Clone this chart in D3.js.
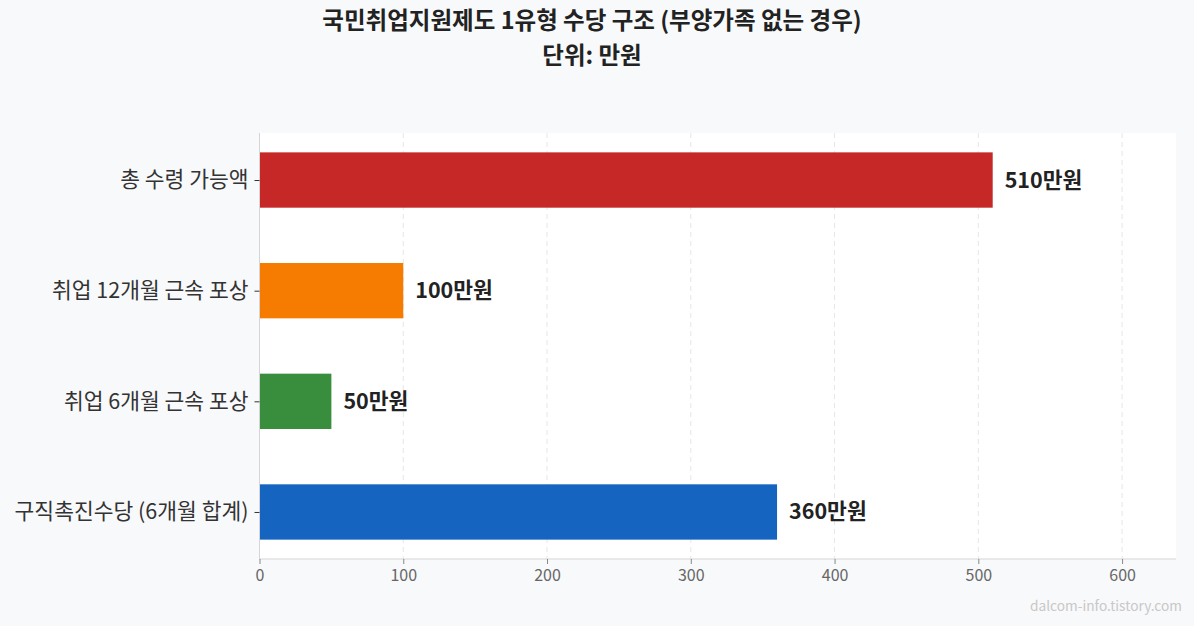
<!DOCTYPE html>
<html><head><meta charset="utf-8">
<script src="https://cdn.jsdelivr.net/npm/d3@7"></script>
<style>
body{margin:0;background:#f8f9fb;}
svg{display:block;font-family:"Noto Sans CJK KR","Noto Sans",sans-serif;}
</style></head>
<body><svg id="c" width="1194" height="626"></svg>
<script>
const categories = ["총 수령 가능액","취업 12개월 근속 포상","취업 6개월 근속 포상","구직촉진수당 (6개월 합계)"];
const values = [510, 100, 50, 360];
const colors = ["#c62828","#f57c00","#388e3c","#1565c0"];
const xTicks = [0,100,200,300,400,500,600];
const titleLines = ["국민취업지원제도 1유형 수당 구조 (부양가족 없는 경우)","단위: 만원"];
const unit = "만원";

const svg = d3.select("#c");
const W = 1194, H = 626;
const m = {left:259.5, right:1176, top:133, bottom:559};
svg.append("rect").attr("width",W).attr("height",H).attr("fill","#f8f9fb");
svg.append("rect").attr("x",m.left).attr("y",m.top).attr("width",m.right-m.left).attr("height",m.bottom-m.top).attr("fill","#ffffff");

const x = d3.scaleLinear().domain([0,637.5]).range([m.left,m.right]);
const y = d3.scaleLinear().domain([-0.425,3.425]).range([m.bottom,m.top]);
const order = [3,2,1,0];
const barH = 0.5;
const FF = "'Noto Sans CJK KR','Noto Sans',sans-serif";

svg.append("g").selectAll("line").data(xTicks).join("line")
  .attr("x1",d=>x(d)).attr("x2",d=>x(d)).attr("y1",m.top).attr("y2",m.bottom)
  .attr("stroke","#e6e6e6").attr("stroke-width",1).attr("stroke-dasharray","5,4");

svg.append("g").selectAll("rect").data(values).join("rect")
  .attr("x",x(0)).attr("y",(d,i)=>y(order[i]+barH/2))
  .attr("width",d=>x(d)-x(0)).attr("height",(d,i)=>y(order[i]-barH/2)-y(order[i]+barH/2))
  .attr("fill",(d,i)=>colors[i]);

svg.append("g").selectAll("text").data(values).join("text")
  .attr("x",d=>x(d)+12).attr("y",(d,i)=>y(order[i]))
  .attr("dy","0.35em").attr("font-size",21.5).attr("font-weight","bold").attr("fill","#222")
  .text(d=>d+unit);

svg.append("line").attr("x1",m.left).attr("x2",m.left).attr("y1",m.top).attr("y2",m.bottom).attr("stroke","#d5d5d5");
svg.append("line").attr("x1",m.left).attr("x2",m.right).attr("y1",m.bottom).attr("y2",m.bottom).attr("stroke","#d5d5d5");

const xa = svg.append("g").attr("transform",`translate(0,${m.bottom})`)
  .call(d3.axisBottom(x).tickValues(xTicks).tickSize(5).tickPadding(6));
xa.select(".domain").remove();
xa.selectAll(".tick line").attr("stroke","#888");
xa.selectAll(".tick text").attr("fill","#666").attr("font-size",16).attr("font-family",FF);

const yScaleBand = d3.scalePoint().domain(categories).range([y(3),y(0)]);
const ya = svg.append("g").attr("transform",`translate(${m.left},0)`)
  .call(d3.axisLeft(yScaleBand).tickSize(5).tickPadding(6));
ya.select(".domain").remove();
ya.selectAll(".tick line").attr("stroke","#333");
ya.selectAll(".tick text").attr("fill","#333").attr("font-size",21.5).attr("font-family",FF);

svg.append("g").selectAll("text").data(titleLines).join("text")
  .attr("x",592).attr("y",(d,i)=>29+i*34.5).attr("text-anchor","middle")
  .attr("font-size",23.5).attr("font-weight","bold").attr("fill","#222").text(d=>d);

svg.append("text").attr("x",1182).attr("y",611).attr("text-anchor","end")
  .attr("font-size",13.7).attr("fill","#c8c8c8").text("dalcom-info.tistory.com");
</script></body></html>
